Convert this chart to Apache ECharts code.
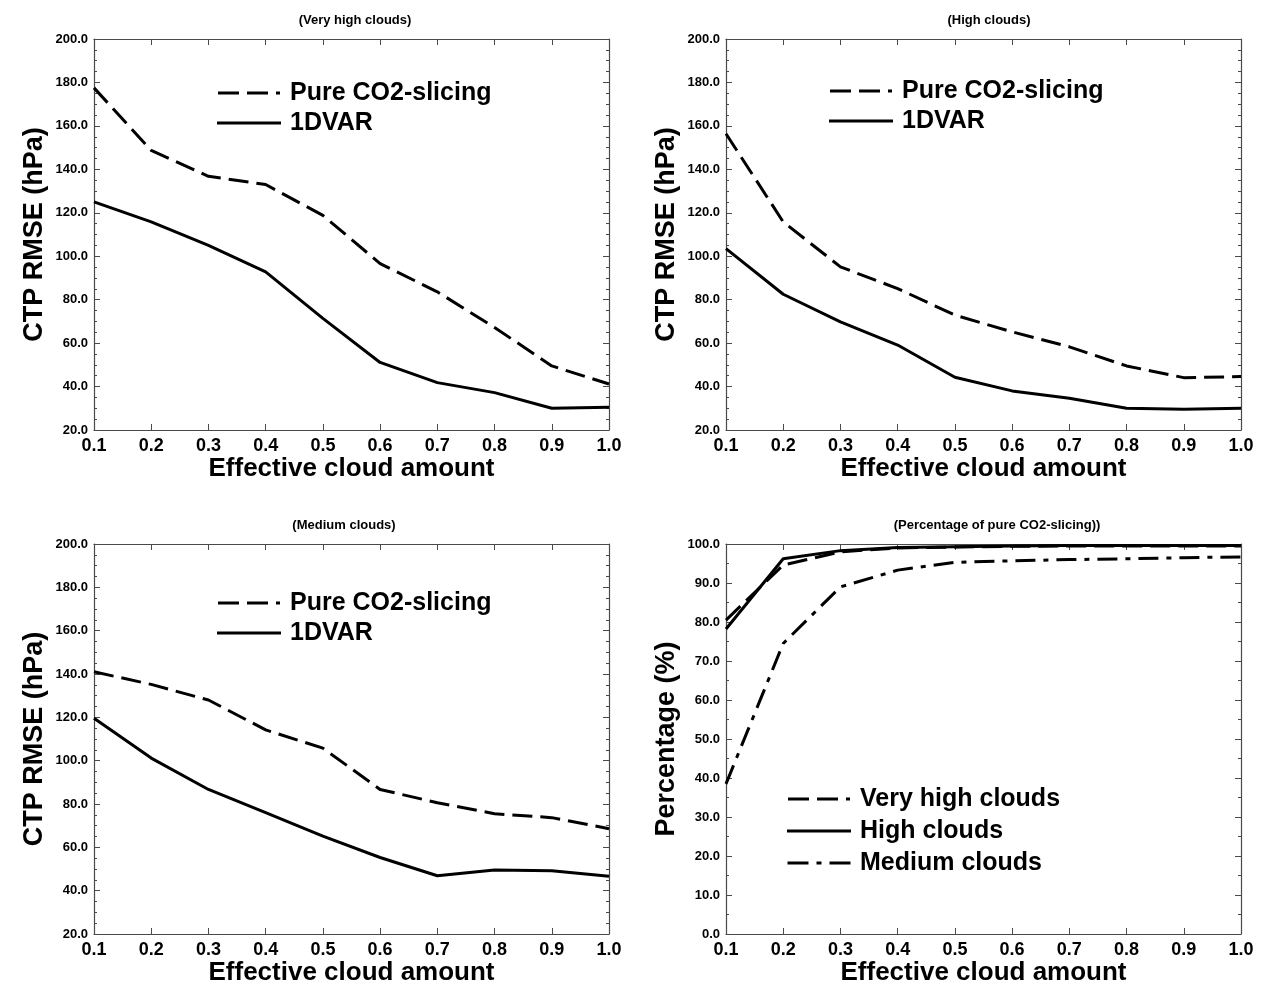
<!DOCTYPE html>
<html>
<head>
<meta charset="utf-8">
<title>CTP RMSE vs effective cloud amount</title>
<script src="https://cdn.jsdelivr.net/npm/echarts@6/dist/echarts.min.js"></script>
<style>
  html, body { margin: 0; padding: 0; background: #ffffff; }
  #chart { width: 1264px; height: 987px; }
</style>
</head>
<body>
<div id="chart"></div>
<script>
// Effective cloud amount (x axis of every panel)
const cloudAmount = [0.1, 0.2, 0.3, 0.4, 0.5, 0.6, 0.7, 0.8, 0.9, 1.0];

// CTP RMSE (hPa), very high clouds
const veryHighCO2 = [177.5, 148.7, 136.8, 133.0, 118.8, 96.6, 83.6, 67.2, 49.5, 41.2];
const veryHigh1DVAR = [125.0, 115.8, 105.0, 92.8, 71.4, 51.1, 41.8, 37.2, 30.0, 30.5];

// CTP RMSE (hPa), high clouds
const highCO2 = [156.4, 115.8, 95.1, 85.1, 72.9, 65.2, 58.3, 49.5, 44.1, 44.6];
const high1DVAR = [103.5, 82.5, 69.8, 59.1, 44.3, 38.0, 34.6, 30.0, 29.6, 30.0];

// CTP RMSE (hPa), medium clouds
const mediumCO2 = [141.0, 135.2, 128.0, 114.2, 105.8, 86.7, 80.6, 75.5, 73.7, 68.6];
const medium1DVAR = [119.6, 101.2, 86.7, 76.0, 65.2, 55.3, 46.9, 49.5, 49.2, 46.6];

// Percentage of pure CO2-slicing retrievals
const veryHighPct = [80.5, 94.6, 98.0, 99.0, 99.2, 99.4, 99.5, 99.5, 99.5, 99.5];
const highPct = [78.2, 96.2, 98.3, 99.1, 99.3, 99.5, 99.6, 99.6, 99.6, 99.6];
const mediumPct = [38.5, 74.5, 89.0, 93.3, 95.3, 95.7, 96.0, 96.2, 96.5, 96.7];

// Axis ranges and tick labels
const xRange = { min: 0.1, max: 1.0, interval: 0.1 };
const rmseRange = { min: 20, max: 200, interval: 20 };
const pctRange = { min: 0, max: 100, interval: 10 };

const panelTitles = ['(Very high clouds)', '(High clouds)', '(Medium clouds)', '(Percentage of pure CO2-slicing))'];
const xTitle = 'Effective cloud amount';
const rmseTitle = 'CTP RMSE (hPa)';
const pctTitle = 'Percentage (%)';
const methodNames = ['Pure CO2-slicing', '1DVAR'];
const cloudNames = ['Very high clouds', 'High clouds', 'Medium clouds'];

const FONT = 'Liberation Sans, Arial, sans-serif';
const INK = '#000000';
const AXIS = '#4a4a4a';

// Line dash patterns for the curves
const DASHED = [20, 8];
const DASH_DOT = [20, 8, 5, 8];

// Legend key glyphs: long dash - long dash - dot, solid bar, dash - dot - dash
const KEY_DASHED = 'path://M0,0h21v3h-21z M29,0h21v3h-21z M58,0h4v3h-4z';
const KEY_SOLID = 'path://M0,0h64v3h-64z';
const KEY_DASH_DOT = 'path://M0,0h21v3h-21z M29,0h5v3h-5z M42,0h21v3h-21z';

function pairs(ys) {
  return cloudAmount.map((x, i) => [x, ys[i]]);
}

const grids = [
  { left: 94, top: 39, width: 515, height: 391 },
  { left: 726, top: 39, width: 515, height: 391 },
  { left: 94, top: 544, width: 515, height: 391 },
  { left: 726, top: 544, width: 515, height: 391 }
];

const xAxes = [];
const yAxes = [];
grids.forEach((g, i) => {
  const isPct = i === 3;
  const yr = isPct ? pctRange : rmseRange;
  // bottom axis with labels
  xAxes.push({
    type: 'value', gridIndex: i, position: 'bottom',
    min: xRange.min, max: xRange.max, interval: xRange.interval,
    name: xTitle, nameLocation: 'middle', nameGap: 26,
    nameTextStyle: { fontFamily: FONT, fontWeight: 'bold', fontSize: 26, color: INK },
    axisLine: { show: true, onZero: false, lineStyle: { color: AXIS, width: 1.2 } },
    axisTick: { show: true, inside: true, length: 6, lineStyle: { color: AXIS } },
    minorTick: { show: false },
    splitLine: { show: false },
    axisLabel: {
      margin: 7, fontFamily: FONT, fontWeight: 'bold', fontSize: 18, color: INK,
      formatter: v => v.toFixed(1), showMinLabel: true, showMaxLabel: true
    }
  });
  // top mirror axis, ticks only
  xAxes.push({
    type: 'value', gridIndex: i, position: 'top',
    min: xRange.min, max: xRange.max, interval: xRange.interval,
    axisLine: { show: true, onZero: false, lineStyle: { color: AXIS, width: 1.2 } },
    axisTick: { show: true, inside: true, length: 6, lineStyle: { color: AXIS } },
    splitLine: { show: false },
    axisLabel: { show: false }
  });
  // left axis with labels
  yAxes.push({
    type: 'value', gridIndex: i, position: 'left',
    min: yr.min, max: yr.max, interval: yr.interval,
    name: isPct ? pctTitle : rmseTitle, nameLocation: 'middle', nameGap: 46,
    nameTextStyle: { fontFamily: FONT, fontWeight: 'bold', fontSize: 27, color: INK },
    axisLine: { show: true, onZero: false, lineStyle: { color: AXIS, width: 1.2 } },
    axisTick: { show: true, inside: true, length: 6, lineStyle: { color: AXIS } },
    minorTick: { show: true, splitNumber: isPct ? 2 : 4, length: 3, lineStyle: { color: AXIS } },
    splitLine: { show: false },
    axisLabel: {
      margin: 6, fontFamily: FONT, fontWeight: 'bold', fontSize: 13, color: INK,
      formatter: v => v.toFixed(1)
    }
  });
  // right mirror axis, ticks only
  yAxes.push({
    type: 'value', gridIndex: i, position: 'right',
    min: yr.min, max: yr.max, interval: yr.interval,
    axisLine: { show: true, onZero: false, lineStyle: { color: AXIS, width: 1.2 } },
    axisTick: { show: true, inside: true, length: 6, lineStyle: { color: AXIS } },
    minorTick: { show: true, splitNumber: isPct ? 2 : 4, length: 3, lineStyle: { color: AXIS } },
    splitLine: { show: false },
    axisLabel: { show: false }
  });
});

function lineSeries(name, panel, ys, dash) {
  return {
    name: name, type: 'line',
    xAxisIndex: panel * 2, yAxisIndex: panel * 2,
    data: pairs(ys),
    symbol: 'none', smooth: false, silent: true,
    lineStyle: { color: INK, width: 3, type: dash, cap: 'butt', join: 'round' },
    itemStyle: { color: INK },
    animation: false
  };
}

const series = [
  lineSeries(methodNames[0], 0, veryHighCO2, DASHED),
  lineSeries(methodNames[1], 0, veryHigh1DVAR, 'solid'),
  lineSeries(methodNames[0], 1, highCO2, DASHED),
  lineSeries(methodNames[1], 1, high1DVAR, 'solid'),
  lineSeries(methodNames[0], 2, mediumCO2, DASHED),
  lineSeries(methodNames[1], 2, medium1DVAR, 'solid'),
  lineSeries(cloudNames[0], 3, veryHighPct, DASHED),
  lineSeries(cloudNames[1], 3, highPct, 'solid'),
  lineSeries(cloudNames[2], 3, mediumPct, DASH_DOT)
];

const legendText = { fontFamily: FONT, fontWeight: 'bold', fontSize: 25, color: INK, lineHeight: 26, padding: [0, 0, 0, 4] };
function legendAt(left, top, items, gap) {
  return {
    orient: 'vertical', left: left, top: top,
    itemWidth: 64, itemHeight: 3, itemGap: gap,
    selectedMode: false,
    data: items.map(it => ({ name: it[0], icon: it[1], itemStyle: { color: INK, borderWidth: 0 } })),
    textStyle: legendText
  };
}

const methodKeys = [[methodNames[0], KEY_DASHED], [methodNames[1], KEY_SOLID]];
const cloudKeys = [[cloudNames[0], KEY_DASHED], [cloudNames[1], KEY_SOLID], [cloudNames[2], KEY_DASH_DOT]];

const titleStyle = { fontFamily: FONT, fontWeight: 'bold', fontSize: 13, color: INK };
const titles = [
  { text: panelTitles[0], left: 350, top: 9, textAlign: 'center', textStyle: titleStyle },
  { text: panelTitles[1], left: 984, top: 9, textAlign: 'center', textStyle: titleStyle },
  { text: panelTitles[2], left: 339, top: 514, textAlign: 'center', textStyle: titleStyle },
  { text: panelTitles[3], left: 992, top: 514, textAlign: 'center', textStyle: titleStyle }
];

const chart = echarts.init(document.getElementById('chart'), null, { renderer: 'canvas' });
chart.setOption({
  backgroundColor: '#ffffff',
  animation: false,
  title: titles,
  grid: grids,
  xAxis: xAxes,
  yAxis: yAxes,
  legend: [
    legendAt(212, 75, methodKeys, 4),
    legendAt(824, 73, methodKeys, 4),
    legendAt(212, 585, methodKeys, 4),
    legendAt(782, 781, cloudKeys, 6)
  ],
  series: series
});
</script>
</body>
</html>
